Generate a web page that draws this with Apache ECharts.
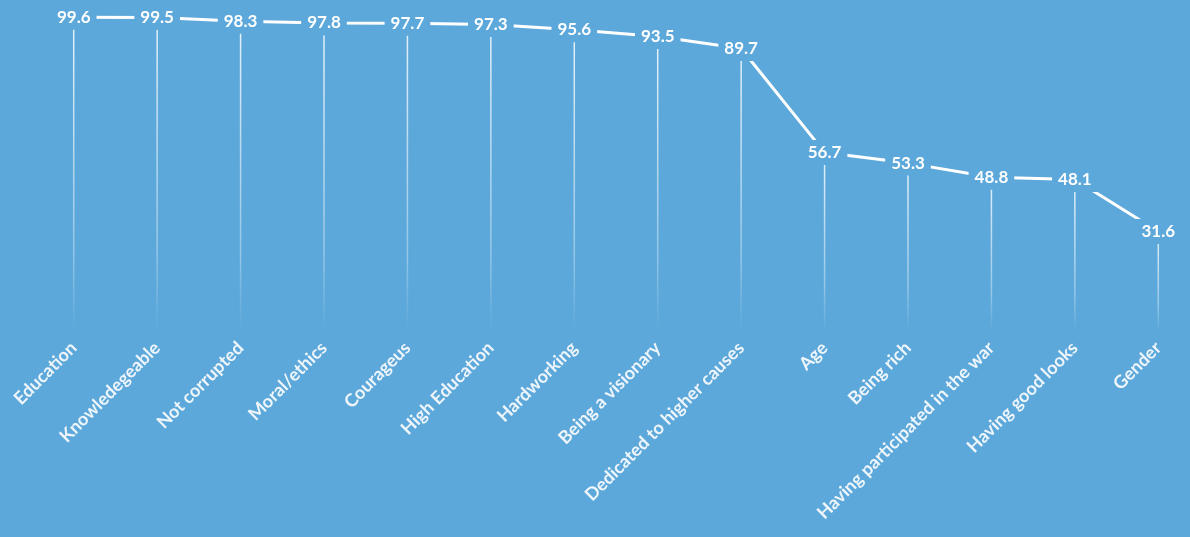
<!DOCTYPE html>
<html>
<head>
<meta charset="utf-8">
<script src="https://cdn.jsdelivr.net/npm/echarts@6/dist/echarts.min.js"></script>
<style>
  html, body { margin: 0; padding: 0; background: #5ca8da; }
  #chart { width: 1190px; height: 537px; }
</style>
</head>
<body>
<div id="chart"></div>
<script>
// categories and values
const categories = [
  'Education', 'Knowledegeable', 'Not corrupted', 'Moral/ethics', 'Courageus',
  'High Education', 'Hardworking', 'Being a visionary', 'Dedicated to higher causes',
  'Age', 'Being rich', 'Having participated in the war', 'Having good looks', 'Gender'
]
const values = [99.6, 99.5, 98.3, 97.8, 97.7, 97.3, 95.6, 93.5, 89.7, 56.7, 53.3, 48.8, 48.1, 31.6]

const bg = '#5ca8da'
const myChart = echarts.init(document.getElementById('chart'))

const option = {
  backgroundColor: bg,
  animation: false,
  grid: { left: 32, width: 1168, top: 16, height: 315, outerBoundsMode: 'none', containLabel: false },
  xAxis: {
    type: 'category',
    data: categories,
    axisLine: { show: false },
    axisTick: { show: false },
    axisLabel: {
      rotate: 45,
      interval: 0,
      margin: 14,
      color: '#eef5fb',
      fontFamily: 'Lato',
      fontWeight: 'bold',
      fontSize: 18
    }
  },
  yAxis: {
    type: 'value',
    min: 0,
    max: 100,
    show: false,
    splitLine: { show: false }
  },
  series: [
    // thin fading drop lines
    {
      type: 'bar',
      data: values,
      barWidth: 1.5,
      z: 1,
      itemStyle: {
        color: new echarts.graphic.LinearGradient(0, 0, 0, 1, [
          { offset: 0, color: 'rgba(255,255,255,0.85)' },
          { offset: 0.75, color: 'rgba(255,255,255,0.35)' },
          { offset: 1, color: 'rgba(255,255,255,0)' }
        ])
      }
    },
    // main line with value labels
    {
      type: 'line',
      data: values,
      z: 3,
      symbol: 'circle',
      symbolSize: 0,
      lineStyle: { color: '#ffffff', width: 3 },
      label: {
        show: true,
        position: 'inside',
        color: '#ffffff',
        fontFamily: 'Lato',
        fontWeight: 'bold',
        fontSize: 17,
        backgroundColor: bg,
        padding: [4, 6]
      }
    }
  ]
}
myChart.setOption(option)
</script>
</body>
</html>
